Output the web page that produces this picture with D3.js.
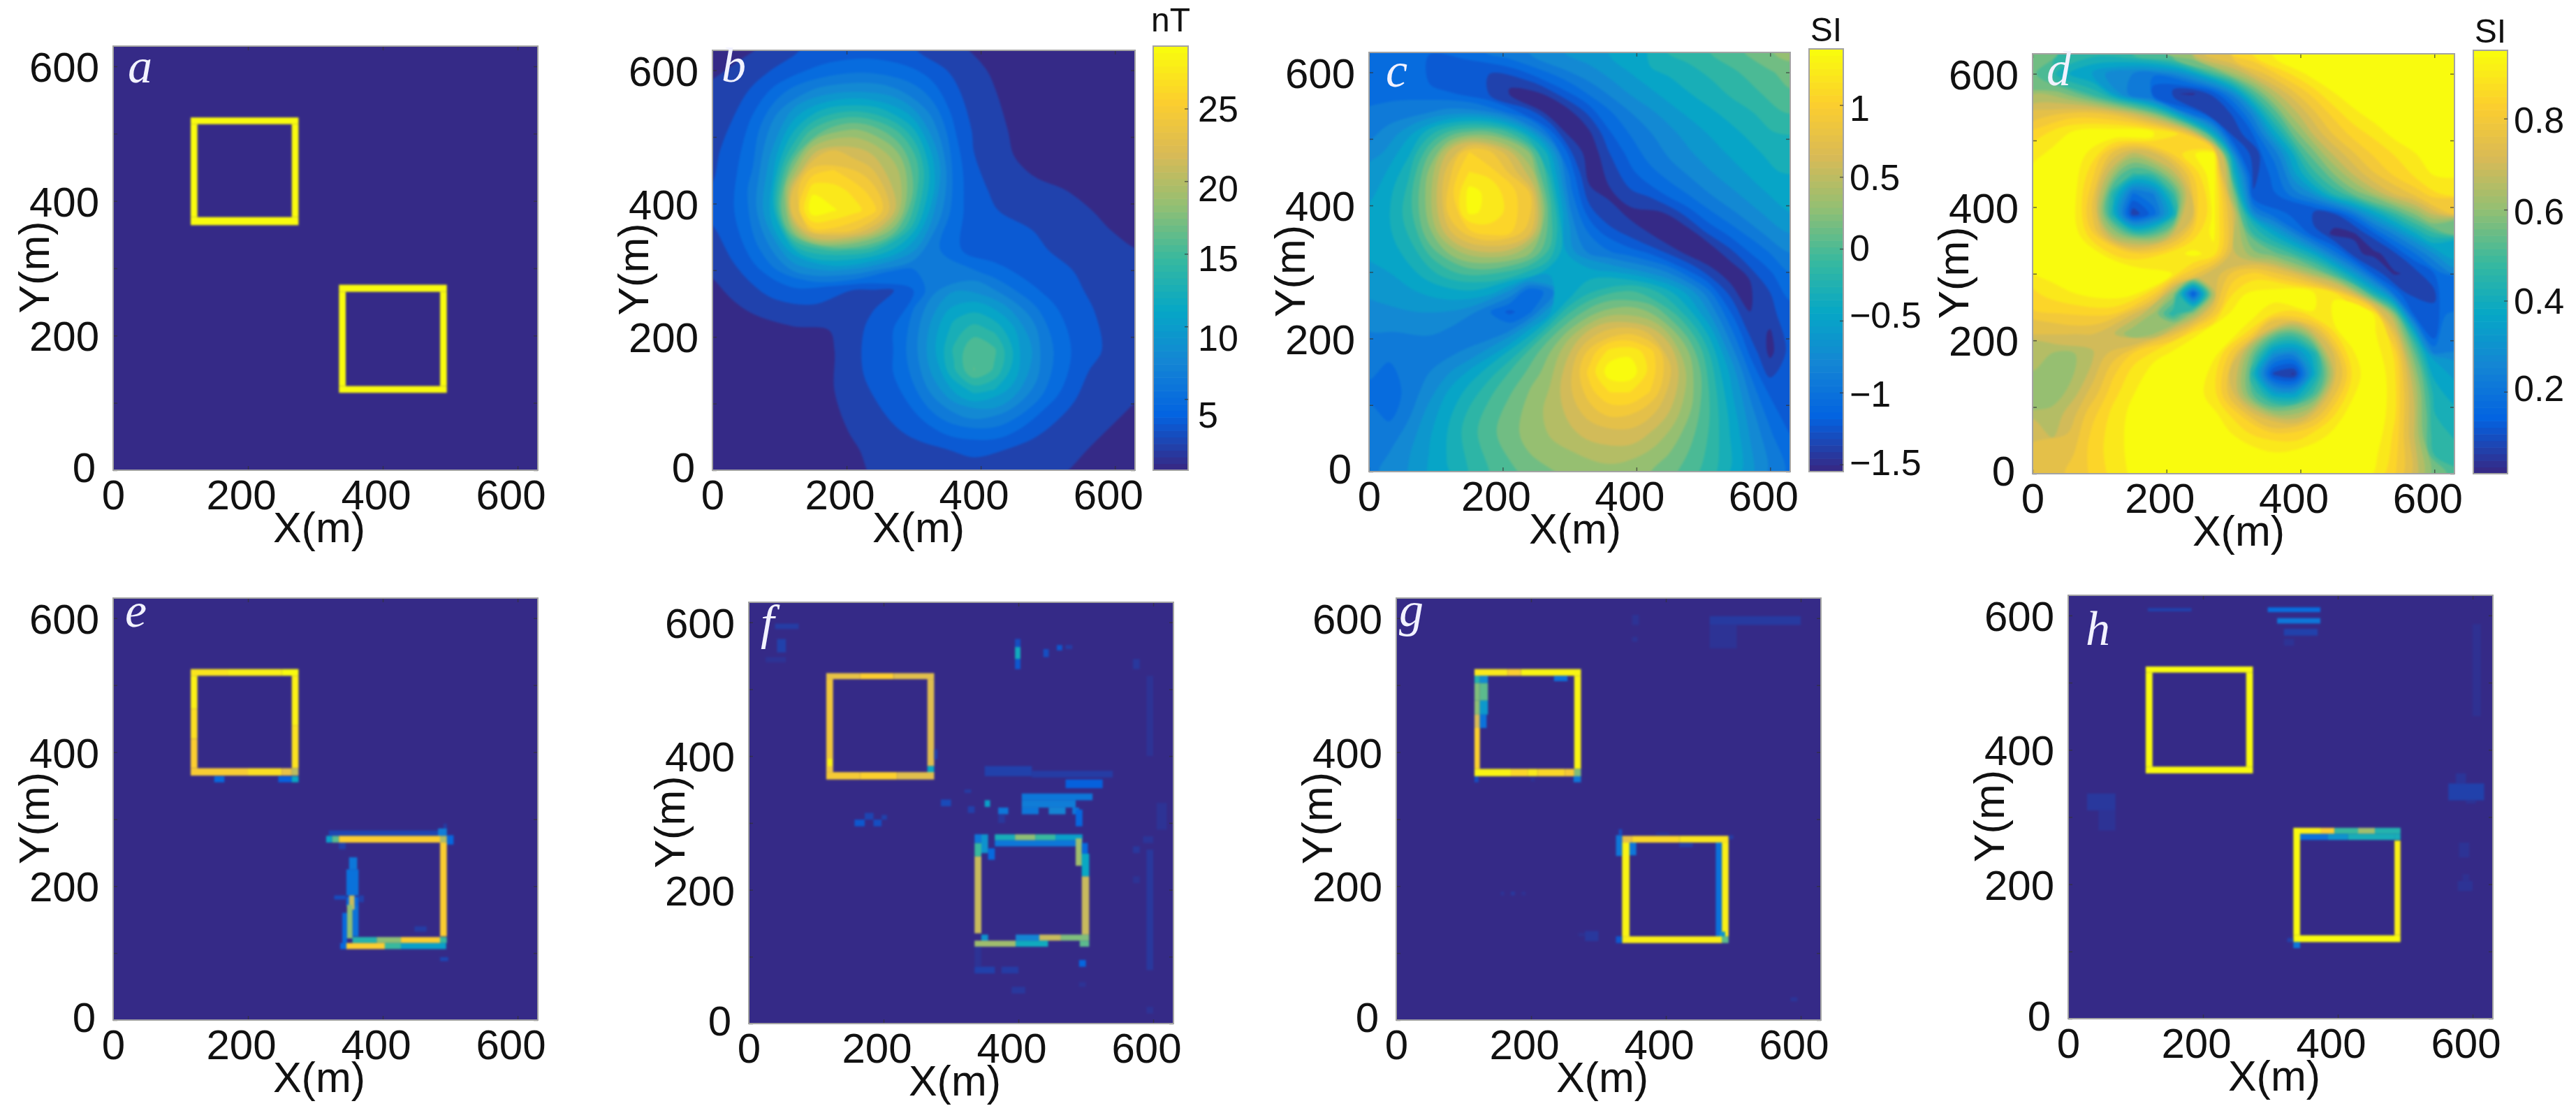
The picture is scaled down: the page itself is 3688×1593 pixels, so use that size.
<!DOCTYPE html>
<html>
<head>
<meta charset="utf-8">
<style>
html, body { margin: 0; padding: 0; background: #fff; }
svg { display: block; filter: blur(0.7px); }
text { font-family: "Liberation Sans", Arial, sans-serif; fill: #111; }
.domain { stroke: none; }
.tick line { stroke: #333; stroke-width: 1.5; stroke-opacity: 0.7; }
</style>
<script src="https://cdn.jsdelivr.net/npm/d3@7/dist/d3.min.js"></script>
</head>
<body>
<svg id="fig" width="3688" height="1593"></svg>
<script>
// field grids: rows run y=630 down to y=0, columns x=0..630, every 30 m
var bRows = [
[1.0,1.2,1.5,2.0,2.6,3.1,3.5,3.7,3.7,3.5,3.1,2.6,2.0,1.4,1.0,.8,.6,.5,.4,.3,.3,.3],
[1.3,1.7,2.3,3.1,4.0,4.7,5.2,5.5,5.5,5.2,4.6,3.6,2.7,2.0,1.3,1.0,.8,.6,.5,.4,.3,.3],
[1.6,2.3,3.2,4.7,6.3,7.5,8.2,8.5,8.4,7.8,6.5,5.0,3.3,2.3,1.6,1.1,.9,.7,.5,.4,.3,.3],
[2.0,2.8,4.2,6.5,9,11,12.5,13,12.5,11,9,6.5,3.9,2.5,1.8,1.2,1,.8,.6,.5,.4,.3],
[2.3,3.3,5,8,11.5,15,17,18,17,15,12,8,4.6,2.8,1.9,1.4,1.1,.8,.7,.5,.4,.3],
[2.6,3.7,5.5,9,14,20,22,21,20,18,14.5,9.5,5,3,2.0,1.5,1.2,.9,.7,.6,.5,.4],
[2.9,4,6,10,18,24,25,23.5,22,20,16,10.5,5.5,3.2,2.3,1.7,1.4,1.0,.8,.7,.5,.4],
[3.1,4.3,6.5,11,22,27.5,27,26,24,20.5,16,10.5,5.5,3.5,2.8,2.3,1.9,1.7,1.45,1.1,.8,.6],
[3.1,4.3,6.5,11,23,29,28,27,25.5,21,14.5,9,5.3,3.6,3.1,2.7,2.4,2.1,1.9,1.5,1.2,.9],
[2.8,4,6,9.5,18,24.5,24.5,23.5,21,17,12,7.5,5,3.8,3.4,3.2,3,2.6,2.2,1.8,1.5,1.2],
[2.4,3.4,5,7.5,11,14,15,14.5,13.5,11.5,9,6.5,4.8,4,3.7,3.5,3.3,2.9,2.5,2.2,1.9,1.6],
[1.8,2.7,3.8,5.5,7.5,8.7,9,8.5,7.5,6,5.8,6.5,6.5,6,5,4.3,3.7,3.2,3,2.6,2,1.6],
[1.2,1.9,2.7,3.5,4.0,3.8,3.3,3.0,2.9,3.0,4.5,7,8.7,8.7,7.5,6,4.7,3.8,3.2,2.8,2.2,1.8],
[.8,1.2,1.7,2.3,2.6,2.7,2.5,2.4,3.0,4.2,6,8.7,11,11.5,10.5,8.5,6.3,4.7,3.6,3,2.3,1.8],
[.5,.7,.9,1.1,1.3,1.4,1.6,2.6,3.4,4.5,6.5,9.5,12.5,14,13,10.5,7.7,5.5,4,3.2,2.5,1.9],
[.4,.5,.6,.7,.8,.9,1.5,2.4,3.4,4.5,6.8,10,13.5,16,15,11.5,8.5,5.8,4.2,3.3,2.5,1.9],
[.3,.4,.4,.5,.6,.7,1.5,2.6,3.5,4.6,6.5,9.5,13,16.2,14.5,11,8,5.6,3.6,2.8,2.3,1.8],
[.3,.3,.3,.4,.5,.6,1.5,2.5,3.2,4,5.7,8,10.5,12.3,11.7,9.5,7,5,3.4,2.7,2.2,1.7],
[.2,.2,.3,.3,.4,.5,1.4,1.9,2.6,3.3,4.5,6.2,7.7,8.7,8.5,7,5.3,3.4,2.7,2.2,1.8,1.4],
[.2,.2,.2,.3,.3,.4,1.2,1.7,2.2,2.9,3.4,4.3,5.2,5.7,5.5,4.7,3.4,2.8,2.2,1.8,1.4,1.1],
[.1,.2,.2,.2,.3,.3,.9,1.4,1.9,2.2,2.5,2.7,3.1,3.3,3.2,2.8,2.4,2,1.8,1.4,1,.7],
[.1,.1,.2,.2,.2,.3,.6,1.1,1.6,1.9,2.1,2.2,2.4,2.5,2.4,2.2,2,1.8,1.45,1,.7,.5]
];
var cRows = [
[-1.05,-1.05,-1.08,-1.1,-1.08,-1.02,-.95,-.85,-.8,-.72,-.65,-.58,-.5,-.42,-.28,-.22,-.15,-.08,-.02,.1,.2,.28],
[-1.02,-1.05,-1.1,-1.18,-1.25,-1.25,-1.25,-1.2,-1.08,-.95,-.82,-.72,-.62,-.52,-.42,-.35,-.28,-.2,-.12,-.03,.05,.13],
[-1,-1,-1.03,-1.05,-1.1,-1.2,-1.32,-1.45,-1.48,-1.3,-1.1,-.92,-.78,-.65,-.55,-.45,-.37,-.29,-.2,-.12,-.04,.05],
[-.95,-.92,-.88,-.82,-.75,-.72,-.8,-1,-1.22,-1.48,-1.45,-1.2,-.98,-.82,-.7,-.58,-.48,-.4,-.32,-.24,-.15,-.05],
[-.85,-.75,-.6,-.3,-.05,.1,.1,-.1,-.5,-1.05,-1.5,-1.42,-1.12,-.95,-.82,-.7,-.6,-.5,-.42,-.33,-.25,-.15],
[-.78,-.62,-.4,.05,.55,.95,.85,.55,.2,-.5,-1.2,-1.52,-1.25,-1.05,-.9,-.78,-.68,-.58,-.5,-.42,-.33,-.25],
[-.65,-.5,-.25,.25,.75,1.1,1.05,.78,.45,-.3,-1,-1.5,-1.35,-1.15,-1,-.88,-.78,-.68,-.58,-.5,-.42,-.33],
[-.55,-.42,-.15,.3,.85,1.3,1.2,1.02,.8,-.1,-.9,-1.35,-1.42,-1.28,-1.18,-1.05,-.92,-.8,-.7,-.6,-.5,-.42],
[-.5,-.38,-.15,.3,.85,1.28,1.2,1.05,.85,0,-.78,-1.2,-1.38,-1.45,-1.48,-1.35,-1.15,-.98,-.85,-.72,-.62,-.52],
[-.48,-.4,-.2,.18,.62,.9,1.02,.98,.7,0,-.6,-1,-1.2,-1.32,-1.42,-1.53,-1.45,-1.2,-1.05,-.9,-.75,-.65],
[-.5,-.45,-.3,-.05,.25,.45,.5,.45,.25,-.1,-.6,-.85,-.95,-1.05,-1.15,-1.3,-1.48,-1.54,-1.3,-1.1,-.95,-.8],
[-.55,-.52,-.42,-.28,-.12,-.02,-.02,-.1,-.25,-.45,-.5,-.45,-.5,-.58,-.7,-.85,-1.1,-1.35,-1.53,-1.3,-1.12,-.95],
[-.62,-.6,-.55,-.48,-.42,-.4,-.45,-.7,-1.1,-.9,-.5,-.25,-.1,-.05,-.15,-.35,-.6,-.95,-1.3,-1.53,-1.25,-1.08],
[-.7,-.7,-.68,-.65,-.68,-.75,-.95,-1.15,-1,-.55,-.1,.15,.28,.3,.2,-.05,-.35,-.7,-1.1,-1.4,-1.3,-1.15],
[-.82,-.82,-.8,-.8,-.85,-.9,-.95,-.8,-.45,-.05,.25,.55,.72,.75,.6,.3,-.05,-.45,-.9,-1.3,-1.42,-1.18],
[-.9,-.92,-.9,-.88,-.85,-.78,-.6,-.35,-.05,.2,.5,.85,1.15,1.2,1.02,.62,.2,-.25,-.72,-1.15,-1.45,-1.2],
[-.95,-1,-.95,-.82,-.68,-.5,-.3,-.08,.1,.3,.6,1,1.33,1.35,1.05,.68,.28,-.12,-.55,-.98,-1.3,-1.2],
[-.98,-1.03,-.92,-.72,-.5,-.32,-.12,.05,.22,.38,.62,.9,1.1,1.1,.95,.62,.28,-.1,-.48,-.85,-1.15,-1.2],
[-.95,-1.02,-.85,-.62,-.4,-.2,-.02,.12,.28,.4,.55,.72,.85,.85,.72,.5,.22,-.1,-.42,-.75,-1.05,-1.2],
[-.92,-.9,-.75,-.55,-.35,-.15,.02,.15,.28,.38,.48,.58,.65,.62,.52,.35,.15,-.1,-.38,-.68,-.95,-1.12],
[-.88,-.82,-.68,-.52,-.35,-.18,-.02,.1,.22,.3,.35,.42,.46,.45,.35,.22,.05,-.12,-.38,-.65,-.9,-1.05],
[-.85,-.78,-.65,-.52,-.38,-.22,-.08,.02,.12,.2,.25,.28,.3,.28,.22,.12,-.02,-.15,-.38,-.62,-.85,-1]
];
var dRows = [
[.58,.55,.48,.46,.47,.5,.53,.6,.68,.75,.82,.87,.92,.95,.95,.95,.95,.95,.95,.95,.95,.95],
[.55,.45,.38,.33,.28,.25,.22,.27,.35,.5,.62,.72,.8,.87,.93,.95,.95,.95,.95,.95,.95,.95],
[.62,.6,.55,.47,.35,.22,.12,.07,.06,.13,.28,.5,.65,.75,.83,.9,.94,.95,.95,.95,.95,.95],
[.72,.75,.78,.78,.75,.68,.58,.4,.18,.07,.12,.28,.5,.65,.75,.83,.89,.93,.95,.95,.95,.95],
[.83,.87,.92,.95,.95,.95,.94,.9,.72,.38,.07,.17,.36,.55,.68,.77,.83,.87,.92,.95,.95,.95],
[.88,.92,.95,.88,.75,.66,.7,.82,.9,.93,.28,.07,.22,.4,.56,.68,.76,.82,.86,.9,.94,.95],
[.93,.95,.94,.82,.62,.48,.5,.65,.82,.95,.42,.09,.18,.33,.47,.58,.68,.76,.82,.87,.91,.95],
[.95,.95,.93,.78,.45,.2,.25,.48,.78,.93,.58,.12,.15,.23,.31,.45,.55,.63,.72,.78,.84,.9],
[.95,.95,.92,.76,.42,.08,.18,.4,.72,.92,.7,.28,.18,.15,.09,.11,.23,.36,.48,.58,.68,.78],
[.95,.95,.94,.82,.62,.5,.52,.68,.83,.92,.68,.48,.38,.26,.13,.05,.06,.15,.26,.38,.47,.56],
[.95,.95,.95,.94,.85,.82,.83,.88,.92,.88,.68,.6,.55,.48,.38,.23,.08,.05,.1,.2,.3,.38],
[.9,.93,.95,.95,.95,.95,.95,.9,.78,.68,.78,.82,.78,.72,.62,.5,.33,.15,.06,.08,.16,.26],
[.85,.87,.9,.92,.93,.92,.82,.6,.13,.65,.86,.93,.94,.95,.92,.88,.7,.43,.2,.07,.1,.2],
[.8,.8,.82,.82,.82,.72,.62,.45,.6,.78,.94,.93,.86,.84,.9,.95,.95,.9,.58,.14,.13,.25],
[.72,.72,.72,.72,.68,.58,.62,.75,.88,.95,.93,.8,.57,.52,.68,.85,.93,.92,.75,.4,.13,.22],
[.65,.62,.62,.66,.74,.82,.88,.93,.95,.92,.78,.55,.3,.27,.42,.72,.9,.95,.85,.55,.25,.28],
[.62,.6,.62,.7,.8,.88,.93,.95,.93,.87,.68,.42,.1,.06,.38,.68,.88,.95,.87,.62,.38,.33],
[.62,.6,.65,.74,.84,.9,.95,.95,.93,.88,.72,.52,.36,.34,.5,.75,.9,.95,.87,.66,.42,.38],
[.66,.64,.7,.8,.87,.92,.95,.95,.95,.92,.84,.72,.62,.62,.72,.85,.93,.95,.87,.68,.44,.4],
[.7,.66,.74,.82,.88,.93,.95,.95,.95,.95,.9,.85,.82,.82,.87,.92,.95,.93,.85,.67,.45,.42],
[.74,.72,.76,.83,.88,.92,.95,.95,.95,.95,.95,.93,.91,.92,.94,.95,.95,.92,.83,.68,.48,.48],
[.76,.74,.78,.84,.88,.91,.95,.95,.95,.95,.95,.95,.95,.95,.95,.95,.95,.9,.82,.7,.55,.52]
];

// heat map runs: [x0, y0, x1, y1, value 0-1] in metres, anything not listed is zero
var aCells = [
[115,514,275,524,1],[115,364,275,376,1],[115,376,125,514,1],[265,376,275,514,1],
[335,265,495,275.5,1],[335,115,495,125,1],[335,125,345,265,1],[485,125,495,265,1]
];
var eCells = [
[115,514,170,524,.94],[170,514,250,524,.97],[250,514,275,524,1],
[115,465,125,514,.97],[115,420,125,465,.92],[115,376,125,420,.87],
[265,440,275,514,.97],[265,376,275,440,.93],
[115,365,200,376,.86],[200,365,250,376,.92],[250,365,265,376,.8],[265,365,275,376,.7],
[150,355,165,364,.15],[245,355,265,364,.12],[265,355,275,364,.38],
[320,275,495,283,.06],[335,255,345,265,.05],[490,283,495,293,.04],[482,275,495,286,.22],[495,262,505,276,.14],
[316,265,325,275,.35],[325,265,335,275,.55],[335,265,485,275,.87],[485,265,495,275,.68],
[485,125,495,265,.87],
[350,225,362,243,.2],[346,186,364,225,.18],[340,115,347,160,.15],[355,125,364,172,.18],
[346,170,364,184,.15],[328,180,345,186,.08],[364,176,372,186,.05],
[350,165,358,186,.72],[347,122,355,172,.62],
[355,115,391,124,.45],[391,115,427,124,.62],[427,115,485,124,.87],[485,115,495,124,.5],
[337,106,346,115,.15],[346,106,403,115,.87],[403,106,427,115,.5],[427,106,494,115,.35],
[485,88,497,94,.06],[447,132,465,140,.04]
];
var fCells = [
[115,515,165,524,.8],[165,515,215,524,.87],[215,515,275,524,.78],
[115,376,125,515,.83],[117,385,124,396,.98],
[265,385,275,515,.77],[265,375,275,385,.38],
[115,365,165,376,.85],[165,365,220,376,.88],[220,365,275,376,.78],[275,395,280,410,.05],
[335,135,345,250,.72],[335,250,345,270,.5],[335,270,345,283,.2],[345,255,355,283,.3],[355,245,365,262,.15],
[365,274,395,283,.42],[395,274,425,283,.62],[425,274,455,283,.5],[455,274,495,283,.35],[365,265,495,274,.2],
[485,236,494,277,.65],[494,254,503,270,.15],[494,220,505,254,.38],[494,133,505,220,.72],
[345,124,355,133,.3],[396,124,431,133,.25],[431,124,463,133,.72],[463,124,505,133,.6],
[335,115,396,124,.65],[396,115,444,124,.4],[491,115,505,124,.55],
[395,545,403,565,.4],[395,563,403,575,.08],[395,530,403,545,.1],[437,548,445,560,.08],[457,558,465,566,.1],[470,560,480,566,.04],
[39,590,74,598,.04],[42,555,55,575,.05],[25,540,55,548,.02],
[370,313,385,323,.2],[405,313,430,323,.2],[445,313,470,323,.25],[480,313,490,323,.2],
[350,324,358,334,.35],[405,323,485,334,.22],[405,334,510,344,.2],[470,352,525,365,.12],
[350,370,420,385,.05],[420,368,540,378,.04],[370,300,380,313,.03],[485,295,495,320,.14],
[325,315,335,325,.05],[285,325,300,335,.07],[320,345,330,350,.04],
[157,295,172,305,.1],[172,305,185,315,.06],[185,295,197,305,.08],[197,305,205,312,.05],
[590,80,600,260,.03],[585,270,600,280,.025],[590,400,600,520,.02],[570,530,580,545,.03],
[570,210,580,220,.02],[570,255,580,265,.03],[605,290,620,330,.02],
[335,75,365,85,.05],[375,75,400,85,.04],[490,85,500,95,.14],[390,45,410,55,.03],
[490,55,500,62,.02],[590,15,600,25,.02],[335,85,345,115,.02]
];
var gCells = [
[116,514,165,524,.95],[165,514,185,524,.87],[185,514,274,524,.98],
[116,503,124,514,.45],[124,503,136,514,.28],[116,477,124,503,.6],[124,477,136,503,.55],
[116,456,124,477,.62],[124,456,136,477,.32],[116,436,124,456,.75],[124,436,134,456,.18],
[116,375,124,436,.88],[234,506,254,514,.18],[264,375,274,514,.98],
[116,364,170,375,.98],[170,364,195,375,.9],[195,364,210,375,.95],[210,364,250,375,.9],[250,364,264,375,.85],[264,364,274,375,.6],
[116,355,122,364,.08],[263,355,274,364,.2],[200,356,205,362,.02],
[335,265,350,275,.8],[350,265,420,275,.9],[420,265,493,275,.94],
[335,125,346,265,.98],[326,245,335,276,.2],[330,276,335,285,.08],[346,246,356,265,.2],
[483,125,493,265,.97],[474,125,483,265,.18],[480,120,488,132,.3],
[335,115,483,125,.97],[483,115,493,125,.55],[326,115,335,125,.1],
[420,258,440,265,.04],[385,276,405,280,.02],[493,270,500,276,.04],
[465,590,600,603,.035],[465,555,505,590,.02],[350,590,360,605,.02],[350,565,358,572,.02],
[280,118,300,133,.03],[270,125,280,130,.015],[155,186,160,192,.02],[170,186,176,192,.03],[186,186,192,192,.015],[585,28,595,34,.025]
];
var hCells = [
[115,365,274,375,1],[115,515,274,524,1],[115,375,125,515,1],[264,375,274,515,1],
[334,124,344,284,1],[484,124,493,265,.97],[334,114,493,124,1],
[344,275,375,284,.97],[375,275,395,284,.87],[395,275,430,284,.5],[430,275,455,284,.65],[455,275,493,284,.45],
[344,266,385,275,.18],[385,266,415,275,.3],[415,266,484,275,.42],[484,266,493,275,.42],
[334,105,344,114,.2],[325,114,334,120,.05],
[296,605,374,612,.16],[310,588,374,596,.2],[320,570,370,580,.05],[320,555,335,565,.02],[118,606,183,611,.05],
[564,325,617,350,.05],[575,350,590,365,.025],[590,320,605,325,.02],[28,310,70,335,.03],[45,280,70,310,.02],
[600,450,612,587,.015],[580,240,595,262,.02],[578,190,600,205,.02],[585,205,595,215,.015]
];

var xTicks = [0, 200, 400, 600];
var yTicks = [0, 100, 200, 300, 400, 500, 600];
var bBarTicks = [5, 10, 15, 20, 25];
var cBarTicks = [-1.5, -1, -0.5, 0, 0.5, 1];
var dBarTicks = [0.2, 0.4, 0.6, 0.8];
// colour bar ranges
var bRange = [0.1, 29.3];
var cRange = [-1.55, 1.39];
var dRange = [0.02, 0.95];
// the numbers beside the colour bars sit a little off their ticks
var bBarNudge = [22, 16, 6, 10, 0];
var cBarNudge = [-3, 2, -8, -2, 0, 4];
var dBarNudge = [-5, 0, 2, 2];

var parula = ["#352a87", "#0363e1", "#1485d4", "#06a7c6", "#38b99e", "#92bf73", "#d9ba56", "#fcce2e", "#f9fb0e"];
var color = d3.scaleLinear().domain(d3.range(9).map(function(i) { return i / 8; })).range(parula);

var extentM = 630, gridN = 22, bandCount = 20;

var svg = d3.select("#fig");
var defs = svg.append("defs");

function drawPanel(p) {
    var x = d3.scaleLinear().domain([0, extentM]).range([0, p.right - p.left]);
    var y = d3.scaleLinear().domain([0, extentM]).range([p.bottom - p.top, 0]);
    var g = svg.append("g").attr("transform", "translate(" + p.left + "," + p.top + ")");

    defs.append("clipPath").attr("id", "clip-" + p.name).append("rect")
        .attr("width", p.right - p.left).attr("height", p.bottom - p.top);
    var clipped = g.append("g").attr("clip-path", "url(#clip-" + p.name + ")");
    var plot = clipped.append("g").style("filter", "blur(1.6px)");
    plot.append("rect")
        .attr("x", -5).attr("y", -5)
        .attr("width", p.right - p.left + 10).attr("height", p.bottom - p.top + 10)
        .attr("fill", color(0));

    if (p.rows) drawContours(plot, p.rows, p.range, x, y);
    if (p.cells) {
        plot.selectAll("rect.cell").data(p.cells).enter().append("rect")
            .attr("class", "cell")
            .attr("x", function(d) { return x(d[0]); })
            .attr("y", function(d) { return y(d[3]); })
            .attr("width", function(d) { return x(d[2]) - x(d[0]); })
            .attr("height", function(d) { return y(d[1]) - y(d[3]); })
            .attr("fill", function(d) { return color(d[4]); });
    }

    // ticks point inwards on all four sides
    var bottomAxis = d3.axisBottom(x).tickValues(xTicks).tickSize(-6).tickPadding(24)
        .tickFormat(function(d) { return d; });
    var leftAxis = d3.axisLeft(y).tickValues(yTicks).tickSize(-6).tickPadding(20)
        .tickFormat(function(d) { return d % 200 == 0 ? d : ""; });
    var gb = g.append("g").attr("transform", "translate(0," + (p.bottom - p.top) + ")").call(bottomAxis);
    var gl = g.append("g").call(leftAxis);
    g.append("g").call(d3.axisTop(x).tickValues(xTicks).tickSize(-6).tickFormat(""));
    g.append("g").attr("transform", "translate(" + (p.right - p.left) + ",0)")
        .call(d3.axisRight(y).tickValues(yTicks).tickSize(-6).tickFormat(""));
    gb.selectAll("text").attr("font-size", 60).attr("font-family", null)
        .attr("dx", function(d) { return d == 0 ? 0 : -10; })
        .attr("y", 0).attr("dy", 56);
    gl.selectAll("text").attr("font-size", 60).attr("font-family", null)
        .attr("dy", function(d) { return d == 0 ? "0.28em" : "0.36em"; })
        .attr("dx", function(d) { return d == 0 ? -5 : 0; });

    g.append("rect")
        .attr("width", p.right - p.left).attr("height", p.bottom - p.top)
        .attr("fill", "none").attr("stroke", "#a3a3a3").attr("stroke-width", 2);

    g.append("text").text("X(m)").attr("font-size", 61).attr("text-anchor", "middle")
        .attr("x", 295).attr("y", p.bottom - p.top + 103);
    g.append("text").text("Y(m)").attr("font-size", 61).attr("text-anchor", "middle")
        .attr("transform", "translate(-92," + ((p.bottom - p.top) / 2 + 13) + ") rotate(-90)");
    g.append("text").text(p.name)
        .attr("x", p.letter[0] - p.left).attr("y", p.letter[1] - p.top)
        .attr("font-size", 70)
        .style("font-family", "'Liberation Serif', serif").style("font-style", "italic")
        .style("fill", "#f2f2ff");

    if (p.bar) drawBar(p);
}

function drawContours(g, rows, range, x, y) {
    var values = d3.merge(rows);
    var step = (range[1] - range[0]) / bandCount;
    var levels = d3.range(1, bandCount).map(function(i) { return range[0] + i * step; });
    var gx = d3.scaleLinear().domain([0.5, gridN - 0.5]).range([0, extentM]);
    var gy = d3.scaleLinear().domain([0.5, gridN - 0.5]).range([extentM, 0]);
    var line = d3.line()
        .x(function(d) { return x(gx(d[0])); })
        .y(function(d) { return y(gy(d[1])); })
        .curve(d3.curveCatmullRomClosed.alpha(0.5));
    // long rings keep every other vertex so the curve runs over the grid steps, edge points stay
    function thin(ring) {
        var pts = ring.slice(0, -1);
        if (pts.length < 16) return pts;
        return pts.filter(function(c, i) {
            return i % 2 == 0 || c[0] == 0 || c[1] == 0 || c[0] == gridN || c[1] == gridN;
        });
    }
    var bands = d3.contours().size([gridN, gridN]).thresholds(levels)(values);
    bands.forEach(function(band, i) {
        var d = "";
        band.coordinates.forEach(function(poly) {
            poly.forEach(function(ring) { d += line(thin(ring)); });
        });
        if (d) {
            g.append("path").attr("d", d).attr("fill-rule", "evenodd")
                .attr("fill", color((i + 1) / (bandCount - 1)));
        }
    });
}

function drawBar(p) {
    var b = p.bar;
    var h = d3.scaleLinear().domain(p.range).range([b.bottom, b.top]);
    var g = svg.append("g").attr("transform", "translate(" + b.left + ",0)");
    var w = b.right - b.left;
    var slices = d3.range(64);
    var piece = (b.bottom - b.top) / 64;
    g.selectAll("rect.slice").data(slices).enter().append("rect")
        .attr("class", "slice").attr("width", w)
        .attr("y", function(d) { return b.bottom - (d + 1) * piece; })
        .attr("height", piece + 0.6)
        .attr("fill", function(d) { return color(d / 63); });
    g.append("rect").attr("y", b.top).attr("width", w).attr("height", b.bottom - b.top)
        .attr("fill", "none").attr("stroke", "#a3a3a3").attr("stroke-width", 2);
    var ax = g.append("g").attr("transform", "translate(" + w + ",0)")
        .call(d3.axisRight(h).tickValues(p.barTicks).tickSize(-5).tickPadding(b.pad)
            .tickFormat(d3.format("")));
    ax.selectAll("text").attr("font-size", 52).attr("font-family", null)
        .attr("dy", function(d, i) { return (p.barNudge[i] + 18) + "px"; });
    g.append("text").text(p.barTitle).attr("font-size", 48).attr("text-anchor", "middle")
        .attr("x", w / 2).attr("y", b.titleY);
}

var panels = [
    {name: "a", left: 162, right: 770, top: 66, bottom: 673, letter: [183, 118], cells: aCells},
    {name: "b", left: 1020, right: 1625, top: 72, bottom: 673, letter: [1033, 117], rows: bRows, range: bRange,
        bar: {left: 1651, right: 1701, top: 66, bottom: 673, pad: 14, titleY: 45}, barTicks: bBarTicks, barNudge: bBarNudge, barTitle: "nT"},
    {name: "c", left: 1960, right: 2563, top: 75, bottom: 675, letter: [1984, 124], rows: cRows, range: cRange,
        bar: {left: 2590, right: 2639, top: 70, bottom: 675, pad: 9, titleY: 59}, barTicks: cBarTicks, barNudge: cBarNudge, barTitle: "SI"},
    {name: "d", left: 2910, right: 3514, top: 77, bottom: 678, letter: [2930, 122], rows: dRows, range: dRange,
        bar: {left: 3541, right: 3590, top: 72, bottom: 678, pad: 9, titleY: 61}, barTicks: dBarTicks, barNudge: dBarNudge, barTitle: "SI"},
    {name: "e", left: 162, right: 770, top: 856, bottom: 1460, letter: [179, 897], cells: eCells},
    {name: "f", left: 1072, right: 1680, top: 862, bottom: 1465, letter: [1089, 914], cells: fCells},
    {name: "g", left: 1999, right: 2607, top: 856, bottom: 1460, letter: [2003, 896], cells: gCells},
    {name: "h", left: 2961, right: 3569, top: 852, bottom: 1458, letter: [2986, 923], cells: hCells}
];

panels.forEach(drawPanel);
</script>
</body>
</html>
